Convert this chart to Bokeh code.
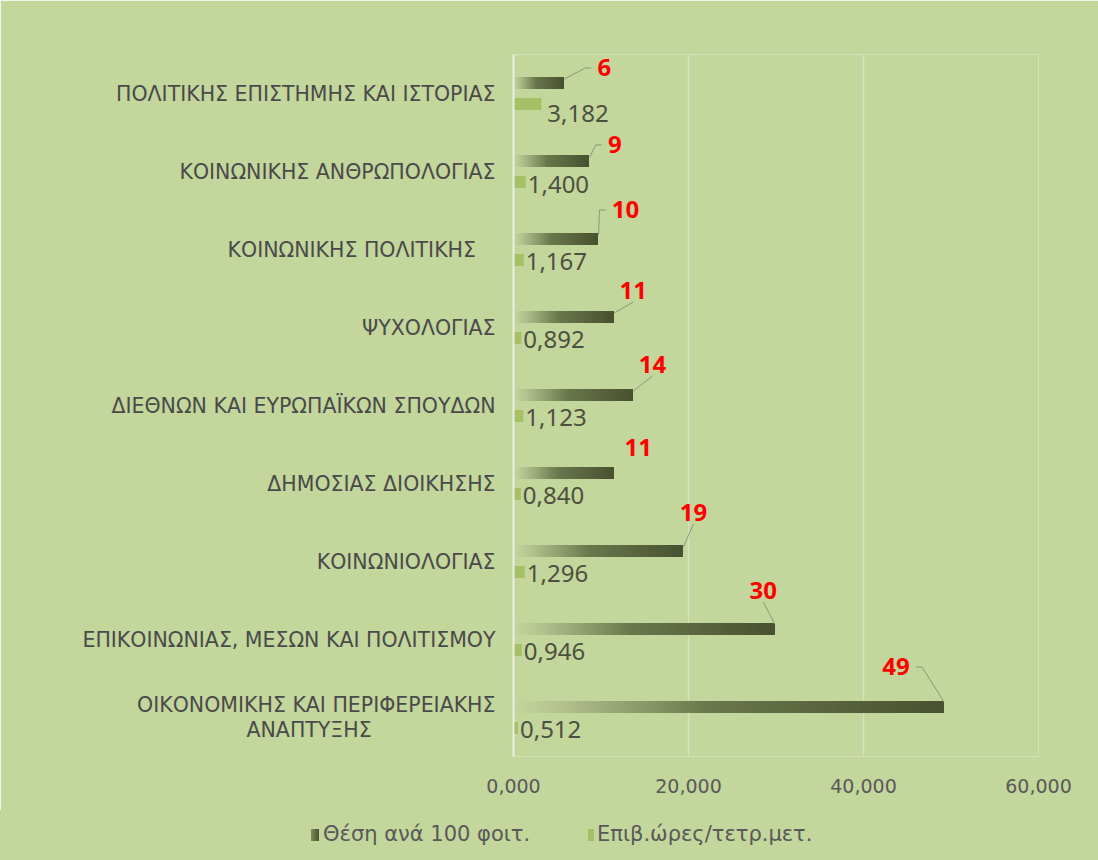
from bokeh.plotting import figure
from bokeh.layouts import column
from bokeh.models import (Range1d, FixedTicker, CustomJSTickFormatter,
                          ColumnDataSource, Div)
from bokeh.core.properties import value
from bokeh.embed import file_html
from bokeh.resources import INLINE

# ---------------- data ----------------
categories = [
    "ΠΟΛΙΤΙΚΗΣ ΕΠΙΣΤΗΜΗΣ ΚΑΙ ΙΣΤΟΡΙΑΣ",
    "ΚΟΙΝΩΝΙΚΗΣ ΑΝΘΡΩΠΟΛΟΓΙΑΣ",
    "ΚΟΙΝΩΝΙΚΗΣ ΠΟΛΙΤΙΚΗΣ\u00a0\u00a0\u00a0",
    "ΨΥΧΟΛΟΓΙΑΣ",
    "ΔΙΕΘΝΩΝ ΚΑΙ ΕΥΡΩΠΑΪΚΩΝ ΣΠΟΥΔΩΝ",
    "ΔΗΜΟΣΙΑΣ ΔΙΟΙΚΗΣΗΣ",
    "ΚΟΙΝΩΝΙΟΛΟΓΙΑΣ",
    "ΕΠΙΚΟΙΝΩΝΙΑΣ, ΜΕΣΩΝ ΚΑΙ ΠΟΛΙΤΙΣΜΟΥ",
    "ΟΙΚΟΝΟΜΙΚΗΣ ΚΑΙ ΠΕΡΙΦΕΡΕΙΑΚΗΣ\nΑΝΑΠΤΥΞΗΣ" + "\u00a0" * 19,
]
positions_per_100 = [5.7, 8.6, 9.6, 11.4, 13.6, 11.4, 19.3, 29.8, 49.2]
hours_per_sqm = [3.182, 1.400, 1.167, 0.892, 1.123, 0.840, 1.296, 0.946, 0.512]
series_names = ["Θέση ανά 100 φοιτ.", "Επιβ.ώρες/τετρ.μετ."]
x_ticks = [0, 20, 40, 60]

# ---------------- layout / style ----------------
W, H = 1098, 810
LEG_H = 50
BL, BR, BT, BB = 513, 60, 54, 54
FRAME_W = W - BL - BR
FRAME_H = H - BT - BB
X_MAX = 60
N_CAT = len(categories)
PPX = FRAME_W / X_MAX
PPY = FRAME_H / N_CAT

BG = "#c3d69b"
LIGHT = "#a6c068"
DARK = "#4a5530"
FONT = "Noto Sans"
FONT2 = "DejaVu Sans"
OFF = 0.135
BAR_H = 0.155
N_SLICES = 90

# red label offsets (px) relative to end of dark bar
label_dx = [41, 26, 28, 20, 20, 25, 11, -11, -48]
label_dy = [-15, -16, -29, -26, -30, -25, -38, -38, -40]
show_leader = [True, True, True, True, True, False, True, True, True]
# light value-label offsets (px)
vlabel_dx = [6, 2, 2, 2, 2, 2, 2, 2, 2]
vlabel_dy = [9, 2, 1, 1, 1, 1, 1, 1, 1]

stops = [(0.0, (195, 214, 155)), (0.12, (178, 192, 140)), (0.45, (106, 119, 76)), (1.0, (72, 82, 48))]


def grad(t):
    for (t0, c0), (t1, c1) in zip(stops[:-1], stops[1:]):
        if t <= t1:
            f = (t - t0) / (t1 - t0)
            r, g, b = (int(round(a + (bb - a) * f)) for a, bb in zip(c0, c1))
            return "#%02x%02x%02x" % (r, g, b)
    return "#%02x%02x%02x" % stops[-1][1]


yc = [N_CAT - i - 0.5 for i in range(N_CAT)]
y_dark = [y + OFF for y in yc]
y_light = [y - OFF for y in yc]

p = figure(width=W, height=H, x_range=Range1d(0, X_MAX), y_range=Range1d(0, N_CAT),
           output_backend="svg", toolbar_location=None,
           min_border_left=BL, min_border_right=BR, min_border_top=BT, min_border_bottom=BB,
           background_fill_color=BG, border_fill_color=BG, outline_line_color=None)

# gridlines
p.xgrid.ticker = FixedTicker(ticks=x_ticks)
p.xgrid.grid_line_color = "#d6e1bf"
p.xgrid.grid_line_width = 1.5
p.ygrid.grid_line_color = None

# gradient dark bars: overlapping slices, each running to the bar end
sl = dict(y=[], left=[], right=[], color=[])
for v, y in zip(positions_per_100, y_dark):
    for k in range(N_SLICES):
        sl["y"].append(y)
        sl["left"].append(v * k / N_SLICES)
        sl["right"].append(v)
        sl["color"].append(grad((k + 0.5) / N_SLICES))
p.hbar(y="y", left="left", right="right", height=BAR_H, fill_color="color",
       line_color=None, source=ColumnDataSource(sl))

p.hbar(y=y_light, left=0, right=hours_per_sqm, height=BAR_H,
       fill_color=LIGHT, line_color=None)

# leader lines
xs, ys = [], []
for v, y, dx, dy, show in zip(positions_per_100, y_dark, label_dx, label_dy, show_leader):
    if not show:
        continue
    w = 7 * len(str(int(v + 0.5)))
    if abs(dx) < w + 10:
        pts = [(1, -4), (dx, dy + 11)]
    elif dx > 0:
        pts = [(1, -4), (dx - w - 12, dy), (dx - w - 6, dy)]
    else:
        pts = [(0, -5), (dx + w + 12, dy), (dx + w + 6, dy)]
    xs.append([v + a / PPX for a, b in pts])
    ys.append([y - b / PPY for a, b in pts])
p.multi_line(xs=xs, ys=ys, line_color="#8d977a", line_width=1)

# red labels
p.text(x=positions_per_100, y=y_dark, text=[str(int(v + 0.5)) for v in positions_per_100],
       x_offset=label_dx, y_offset=label_dy, text_align="center", text_baseline="middle",
       text_font=value(FONT), text_font_style="bold", text_font_size="24px", text_color="#ff0000")

# light value labels
p.text(x=hours_per_sqm, y=y_light, text=[("%.3f" % v).replace(".", ",") for v in hours_per_sqm],
       x_offset=vlabel_dx, y_offset=vlabel_dy, text_align="left", text_baseline="middle",
       text_font=value(FONT), text_font_size="24px", text_color="#4d5040")

# axes
p.xaxis.ticker = FixedTicker(ticks=x_ticks)
p.xaxis.formatter = CustomJSTickFormatter(code="return tick.toFixed(3).replace('.', ',');")
p.xaxis.axis_line_color = None
p.xaxis.major_tick_line_color = None
p.xaxis.minor_tick_line_color = None
p.xaxis.major_label_standoff = 16
p.xaxis.major_label_text_font = FONT2
p.xaxis.major_label_text_font_size = "19px"
p.xaxis.major_label_text_color = "#595959"

p.yaxis.ticker = FixedTicker(ticks=yc)
p.yaxis.major_label_overrides = {y: c for y, c in zip(yc, categories)}
p.yaxis.axis_line_color = "#eceee4"
p.yaxis.axis_line_width = 2
p.yaxis.major_tick_line_color = None
p.yaxis.minor_tick_line_color = None
p.yaxis.major_label_standoff = 12
p.yaxis.major_label_text_font = FONT2
p.yaxis.major_label_text_font_size = "20.5px"
p.yaxis.major_label_text_color = "#4a4a4a"
p.yaxis.major_label_text_line_height = 1.05

# ---------------- legend strip (HTML) ----------------
legend_html = (
    f'<div style="position:relative;width:{W}px;height:{LEG_H}px;background:{BG};'
    f'font-family:\'{FONT2}\';font-size:21px;color:#595959;overflow:hidden;">'
    f'<span style="position:absolute;left:311px;top:19px;width:8px;height:12px;'
    f'background:linear-gradient(to right,#7d8b5c,{DARK});"></span>'
    f'<span style="position:absolute;left:323px;top:12px;line-height:24px;white-space:nowrap;">'
    f'{series_names[0]}</span>'
    f'<span style="position:absolute;left:588px;top:19px;width:6px;height:12px;background:{LIGHT};"></span>'
    f'<span style="position:absolute;left:597px;top:12px;line-height:24px;white-space:nowrap;">'
    f'{series_names[1]}</span>'
    '</div>'
)
leg = Div(text=legend_html, width=W, height=LEG_H, margin=0,
          styles={"background-color": BG})

open("out.html", "w").write(file_html(column(p, leg, spacing=0), INLINE))
